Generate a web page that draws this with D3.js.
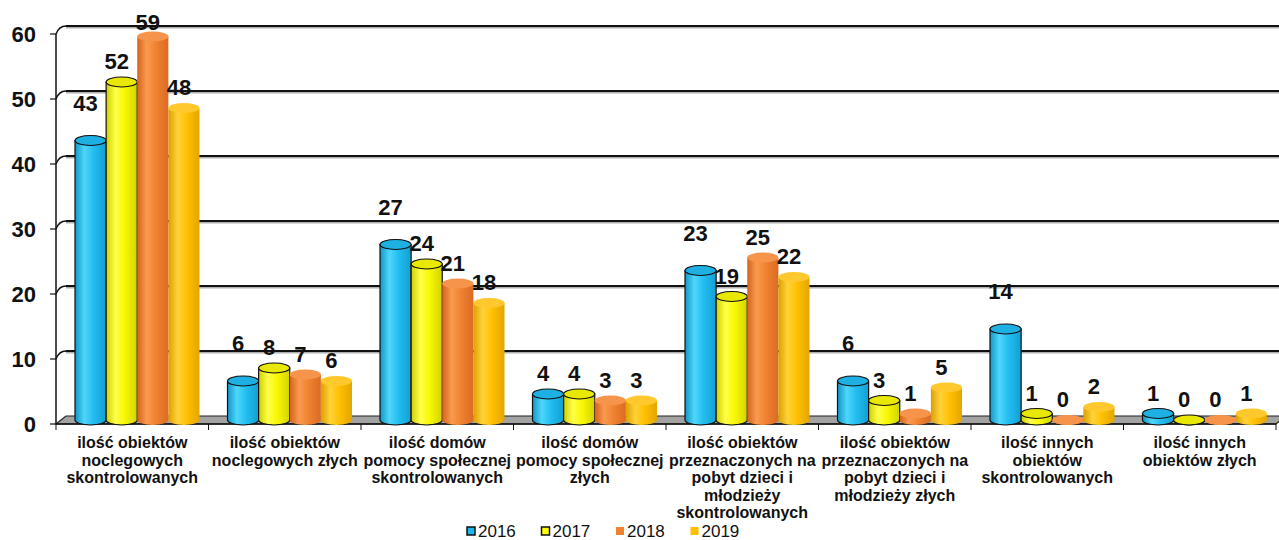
<!DOCTYPE html>
<html><head><meta charset="utf-8">
<script src="https://cdn.jsdelivr.net/npm/d3@7"></script>
<style>body{margin:0;background:#fff}svg{display:block}text{font-family:"Liberation Sans",Arial,sans-serif}</style>
</head><body><svg id="c" width="1279" height="540"></svg>
<script>
const categories = [
  ["ilość obiektów","noclegowych","skontrolowanych"],
  ["ilość obiektów","noclegowych złych"],
  ["ilość domów","pomocy społecznej","skontrolowanych"],
  ["ilość domów","pomocy społecznej","złych"],
  ["ilość obiektów","przeznaczonych na","pobyt dzieci i","młodzieży","skontrolowanych"],
  ["ilość obiektów","przeznaczonych na","pobyt dzieci i","młodzieży złych"],
  ["ilość innych","obiektów","skontrolowanych"],
  ["ilość innych","obiektów złych"]
];
const years = ["2016","2017","2018","2019"];
const v2016 = [43,6,27,4,23,6,14,1];
const v2017 = [52,8,24,4,19,3,1,0];
const v2018 = [59,7,21,3,25,1,0,0];
const v2019 = [48,6,18,3,22,5,2,1];
const yTicks = [0,10,20,30,40,50,60];

const series = [v2016,v2017,v2018,v2019];
const styles = [
  {stops:["#1097c8","#4fd6fa","#22bdf0","#129fd2"], top:"#1eb0e2", stroke:"#111"},
  {stops:["#cfcf00","#ffff4a","#f8f800","#d2d200"], top:"#e8e800", stroke:"#111"},
  {stops:["#d5631d","#fa9a4e","#f08232","#da6b22"], top:"#f6944c", stroke:"none"},
  {stops:["#dea000","#ffd23a","#ffc000","#e2a600"], top:"#ffc92e", stroke:"none"}
];
const legendFill = ["#1cb8ec","#ffff00","#f08232","#ffc000"];

const svg = d3.select("#c");
const DX = 10, DY = -8;
const idx = d3.range(categories.length);
const x0 = d3.scaleBand().domain(idx).range([56,1276]).padding(0);
const x1 = d3.scaleBand().domain(d3.range(years.length)).range([14, x0.bandwidth()-14]);
const y = d3.scaleLinear().domain([0,60]).range([424,34]);

const defs = svg.append("defs");
styles.forEach((s,i)=>{
  const g = defs.append("linearGradient").attr("id","g"+i).attr("x1","0").attr("x2","1").attr("y1","0").attr("y2","0");
  [0,0.3,0.6,1].forEach((o,k)=>g.append("stop").attr("offset",o).attr("stop-color",s.stops[k]));
});

// back wall gridlines
yTicks.filter(t=>t>0).forEach(t=>{
  svg.append("line").attr("x1",56+DX).attr("x2",1279).attr("y1",y(t)+DY+1.6).attr("y2",y(t)+DY+1.6)
    .attr("stroke","#b0b0b0").attr("stroke-width",1.6);
  svg.append("line").attr("x1",56+DX).attr("x2",1279).attr("y1",y(t)+DY).attr("y2",y(t)+DY)
    .attr("stroke","#111").attr("stroke-width",1.8);
  svg.append("path").attr("d",`M56,${y(t)} Q${56+DX*0.3},${y(t)+DY} ${56+DX},${y(t)+DY}`)
    .attr("fill","none").attr("stroke","#111").attr("stroke-width",1.4);
});

// floor
svg.append("polygon")
  .attr("points",[[56,y(0)],[1276,y(0)],[1276+DX,y(0)+DY],[56+DX,y(0)+DY]].map(p=>p.join(",")).join(" "))
  .attr("fill","#a3a3a3").attr("stroke","#222").attr("stroke-width",1.2);

// y axis
svg.append("line").attr("x1",56).attr("x2",56).attr("y1",y(60)).attr("y2",y(0)).attr("stroke","#111").attr("stroke-width",1.5);
yTicks.forEach(t=>{
  svg.append("line").attr("x1",50).attr("x2",56).attr("y1",y(t)).attr("y2",y(t)).attr("stroke","#111").attr("stroke-width",1.2);
  svg.append("text").attr("x",36).attr("y",y(t)+8).attr("text-anchor","end")
    .attr("font-size",22).attr("font-weight","bold").attr("fill","#111").text(t);
});
// x axis line + ticks
svg.append("line").attr("x1",56).attr("x2",1276).attr("y1",y(0)).attr("y2",y(0)).attr("stroke","#111").attr("stroke-width",1.5);
d3.range(categories.length+1).forEach(i=>{
  const xx = 56 + i*x0.bandwidth();
  svg.append("line").attr("x1",xx).attr("x2",xx).attr("y1",y(0)).attr("y2",y(0)+6).attr("stroke","#111").attr("stroke-width",1);
});

// cylinders
const bw = x1.bandwidth(), rx = bw/2, ry = 5;
idx.forEach(ci=>{
  series.forEach((vals,si)=>{
    const v = vals[ci];
    const xl = x0(ci) + x1(si) + DX/2;
    const xr = xl + bw;
    const cx = xl + rx;
    const yb = y(0) + DY/2;
    const yt = y(v) + DY/2;
    const st = styles[si];
    const g = svg.append("g");
    g.append("path")
      .attr("d",`M${xl},${yt} L${xl},${yb} A${rx},${ry} 0 0 0 ${xr},${yb} L${xr},${yt} Z`)
      .attr("fill",`url(#g${si})`).attr("stroke",st.stroke).attr("stroke-width",1.2);
    g.append("ellipse").attr("cx",cx).attr("cy",yt).attr("rx",rx).attr("ry",ry)
      .attr("fill",st.top).attr("stroke",st.stroke).attr("stroke-width",1.2);
  });
});

// data labels
idx.forEach(ci=>{
  series.forEach((vals,si)=>{
    const v = vals[ci];
    const cx = x0(ci) + x1(si) + bw/2;
    const lift = (si===0 && v>4) ? 42 : (v>55 ? 19 : 25);
    svg.append("text").attr("x",cx).attr("y",y(v)-lift+8).attr("text-anchor","middle")
      .attr("font-size",22).attr("font-weight","bold").attr("fill","#111").text(v);
  });
});

// category labels
idx.forEach(ci=>{
  const t = svg.append("text").attr("text-anchor","middle").attr("font-size",16).attr("font-weight","bold").attr("fill","#111");
  categories[ci].forEach((ln,k)=>{
    t.append("tspan").attr("x",x0(ci)+x0.bandwidth()/2).attr("y",448+17.5*k).text(ln);
  });
});

// legend
const lg = svg.append("g").attr("transform","translate(467,0)");
years.forEach((yr,i)=>{
  const gx = i*74.5;
  lg.append("rect").attr("x",gx).attr("y",527).attr("width",8).attr("height",8)
    .attr("fill",legendFill[i]).attr("stroke",i<2?"#111":"none").attr("stroke-width",1.5);
  lg.append("text").attr("x",gx+11).attr("y",536.5).attr("font-size",17).attr("fill","#111").text(yr);
});
</script></body></html>
